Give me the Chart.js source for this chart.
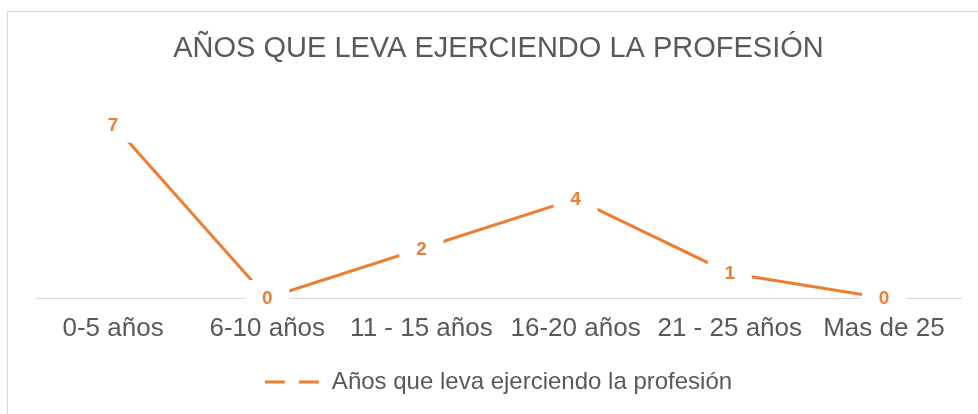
<!DOCTYPE html>
<html>
<head>
<meta charset="utf-8">
<script src="https://cdn.jsdelivr.net/npm/chart.js@4"></script>
<style>
  html, body { margin: 0; padding: 0; background: #fff; overflow: hidden; }
  #wrap { width: 978px; height: 414px; }
</style>
</head>
<body>
<div id="wrap"><canvas id="grafico"></canvas></div>
<script>
// datos del gráfico
const categorias = ['0-5 años', '6-10 años', '11 - 15 años', '16-20 años', '21 - 25 años', 'Mas de 25'];
const valores = [7, 0, 2, 4, 1, 0];
const titulo = 'AÑOS QUE LEVA EJERCIENDO LA PROFESIÓN';
const serie = 'Años que leva ejerciendo la profesión';

const naranja = '#ED7D31';
const gris = '#595959';
const fuente = '"Liberation Sans", Arial, sans-serif';

// borde del área del gráfico (solo se ve arriba y a la izquierda)
const bordePlugin = {
  id: 'borde',
  beforeDraw(chart) {
    const ctx = chart.ctx;
    ctx.save();
    ctx.strokeStyle = '#d9d9d9';
    ctx.lineWidth = 1;
    ctx.strokeRect(7.5, 11.5, 1200, 1200);
    ctx.restore();
  }
};

// etiquetas de datos con fondo blanco encima de la línea
const etiquetasPlugin = {
  id: 'etiquetas',
  afterDatasetsDraw(chart) {
    const ctx = chart.ctx;
    const meta = chart.getDatasetMeta(0);
    ctx.save();
    ctx.font = 'bold 19px ' + fuente;
    ctx.textAlign = 'center';
    ctx.textBaseline = 'middle';
    meta.data.forEach((pt, i) => {
      ctx.fillStyle = '#fff';
      ctx.fillRect(pt.x - 22, pt.y - 18, 44, 36);
      ctx.fillStyle = naranja;
      ctx.fillText(String(valores[i]), pt.x, pt.y + 1);
    });
    ctx.restore();
  }
};

const config = {
  type: 'line',
  data: {
    labels: categorias,
    datasets: [{
      label: serie,
      data: valores,
      borderColor: naranja,
      backgroundColor: naranja,
      borderWidth: 3,
      pointRadius: 0,
      tension: 0
    }]
  },
  options: {
    responsive: true,
    maintainAspectRatio: false,
    animation: false,
    layout: { padding: { left: 36, right: 17, top: 0, bottom: 10 } },
    plugins: {
      title: {
        display: true,
        text: titulo,
        color: gris,
        font: { family: fuente, size: 29, weight: 'normal' },
        padding: { top: 32, bottom: 33 }
      },
      legend: {
        position: 'bottom',
        labels: {
          color: gris,
          font: { family: fuente, size: 24 },
          usePointStyle: true,
          pointStyleWidth: 55,
          generateLabels: () => [{
            text: serie,
            fillStyle: naranja,
            strokeStyle: naranja,
            lineWidth: 3,
            lineDash: [20, 14],
            pointStyle: 'line',
            hidden: false,
            datasetIndex: 0,
            fontColor: gris
          }]
        }
      },
      tooltip: { enabled: false }
    },
    scales: {
      x: {
        offset: true,
        grid: { display: false },
        border: { display: true, color: '#d9d9d9', width: 1 },
        ticks: {
          color: gris,
          padding: 7,
          maxRotation: 0,
          autoSkip: false,
          font: { family: fuente, size: 26 }
        },
        afterFit(scale) { scale.height = 62; }
      },
      y: {
        display: false,
        min: 0,
        max: 8
      }
    }
  },
  plugins: [bordePlugin, etiquetasPlugin]
};

const grafico = new Chart(document.getElementById('grafico'), config);
</script>
</body>
</html>
